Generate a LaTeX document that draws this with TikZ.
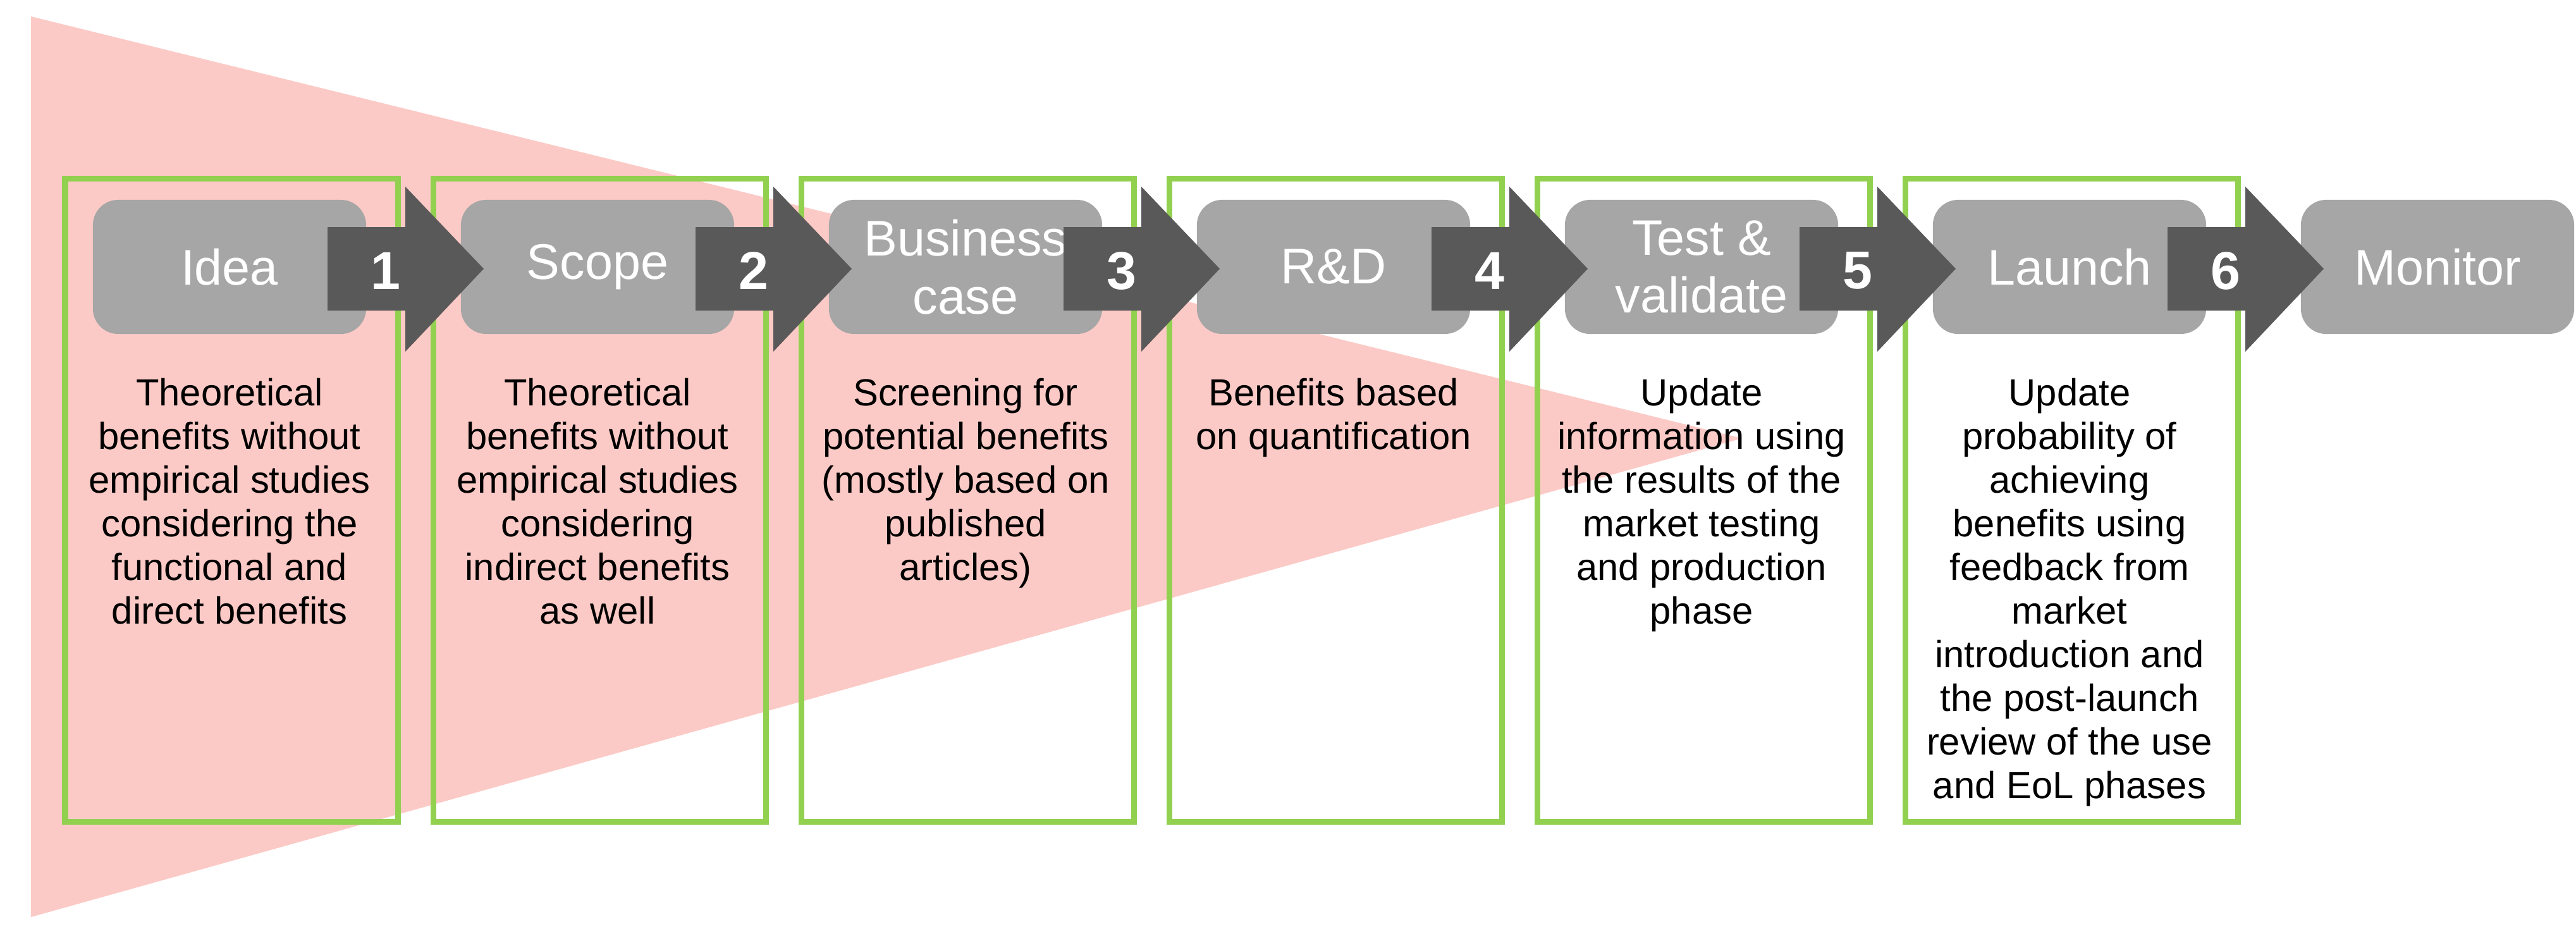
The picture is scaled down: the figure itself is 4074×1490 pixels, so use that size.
\documentclass[tikz,border=0pt]{standalone}
\usepackage{fontspec}
\setmainfont{Liberation Sans}
\usetikzlibrary{calc}
\definecolor{funnel}{HTML}{FCCAC6}
\definecolor{frame}{HTML}{92D050}
\definecolor{stage}{HTML}{A6A6A6}
\definecolor{gate}{HTML}{595959}
\begin{document}
\begin{tikzpicture}[x=0.01cm,y=-0.01cm,
  every node/.style={inner sep=0pt},
  phase/.style={fill=stage,rounded corners=0.4cm,minimum width=4.32cm,minimum height=2.12cm,
    text=white,align=center,font=\fontsize{22.5}{26}\selectfont},
  note/.style={anchor=north,align=center,font=\fontsize{17}{19.6}\selectfont},
  box/.style={draw=frame,line width=0.09cm},
  num/.style={text=white,font=\fontsize{24}{26}\selectfont\bfseries}]
  \useasboundingbox (0,0) rectangle (4074,1490);
  % funnel
  \fill[funnel] (49,26) -- (2755,693) -- (49,1450) -- cycle;
  % frames
  \foreach \i in {1,...,6}
    \draw[box] ({103+(\i-1)*582},282) rectangle ({629+(\i-1)*582},1299);
  % stages
  \foreach \i/\t in {1/Idea,2/Scope,3/{Business\\case},4/R\&D,5/{Test \&\\validate},6/Launch,7/Monitor}
    \node[phase] (s\i) at ({363+(\i-1)*582},422) {\t};
  % gates
  \foreach \i in {1,...,6}{
    \pgfmathsetmacro{\xo}{147+(\i-1)*582}
    \fill[gate] (\xo+371,359) -- (\xo+494,359) -- (\xo+494,295) -- (\xo+618,425)
      -- (\xo+494,556) -- (\xo+494,491) -- (\xo+371,491) -- cycle;
    \node[num] (g\i) at (\xo+463,428) {\i};
  }
  % notes
  \node[note] (n1) at ($(s1.south)+(0,69)$) {Theoretical\\benefits without\\empirical studies\\considering the\\functional and\\direct benefits};
  \node[note] (n2) at ($(s2.south)+(0,69)$) {Theoretical\\benefits without\\empirical studies\\considering\\indirect benefits\\as well};
  \node[note] (n3) at ($(s3.south)+(0,69)$) {Screening for\\potential benefits\\(mostly based on\\published\\articles)};
  \node[note] (n4) at ($(s4.south)+(0,69)$) {Benefits based\\on quantification};
  \node[note] (n5) at ($(s5.south)+(0,69)$) {Update\\information using\\the results of the\\market testing\\and production\\phase};
  \node[note] (n6) at ($(s6.south)+(0,69)$) {Update\\probability of\\achieving\\benefits using\\feedback from\\market\\introduction and\\the post-launch\\review of the use\\and EoL phases};
\end{tikzpicture}
\end{document}
